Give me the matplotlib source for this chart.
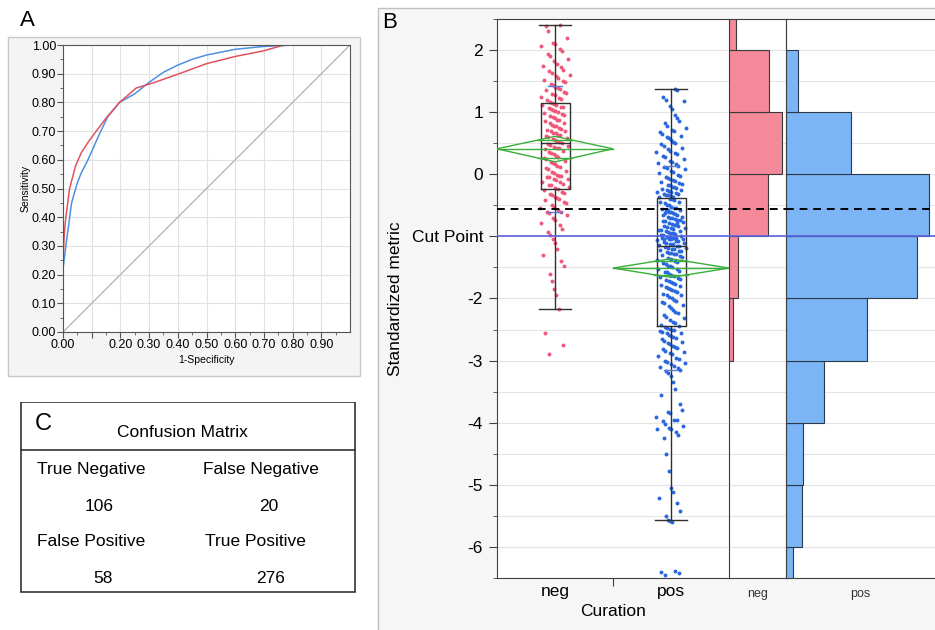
import matplotlib.pyplot as plt
import numpy as np
from matplotlib.patches import Rectangle, Polygon

plt.rcParams['font.family'] = ['Liberation Sans', 'DejaVu Sans']

# ---- panel A: ROC curves ----
red_fpr = [0, 0.0, 0.005, 0.01, 0.023, 0.044, 0.064, 0.09, 0.116, 0.15, 0.197, 0.255,
           0.32, 0.405, 0.5, 0.6, 0.7, 0.77, 1.0]
red_tpr = [0, 0.25, 0.35, 0.40, 0.50, 0.58, 0.625, 0.665, 0.70, 0.745, 0.80, 0.85,
           0.87, 0.90, 0.935, 0.96, 0.98, 1.0, 1.0]
blue_fpr = [0, 0.0, 0.01, 0.03, 0.05, 0.064, 0.087, 0.127, 0.156, 0.197, 0.25, 0.3,
            0.35, 0.4, 0.45, 0.5, 0.6, 0.7, 0.8, 1.0]
blue_tpr = [0, 0.22, 0.30, 0.45, 0.52, 0.555, 0.60, 0.69, 0.75, 0.80, 0.83, 0.87,
            0.905, 0.93, 0.95, 0.965, 0.985, 0.995, 1.0, 1.0]

# ---- panel C: confusion matrix ----
cm_labels = ["True Negative", "False Negative", "False Positive", "True Positive"]
cm_values = [106, 20, 58, 276]

# ---- panel B: standardized metric by curation ----
categories = ["neg", "pos"]
neg_vals = [-2.9, -2.75, -2.55, -2.17,
            -1.95, -1.85, -1.72, -1.6, -1.48, -1.4, -1.3, -1.2, -1.1, -1.05,
            -0.98, -0.93, -0.88, -0.82, -0.78, -0.74, -0.7, -0.66, -0.63, -0.61,
            -0.6, -0.57, -0.55, -0.52, -0.5, -0.47, -0.45, -0.42, -0.4, -0.38,
            -0.36, -0.34, -0.32, -0.3, -0.28, -0.26, -0.24,
            -0.22, -0.2, -0.18, -0.17, -0.15, -0.13, -0.12, -0.1, -0.08, -0.07,
            -0.05, -0.04, -0.03, -0.02, -0.01,
            0.02, 0.04, 0.06, 0.08, 0.1, 0.12, 0.14, 0.16, 0.18, 0.2, 0.22, 0.24,
            0.26, 0.28, 0.3, 0.32, 0.34, 0.36, 0.38, 0.4, 0.42, 0.43, 0.44, 0.46,
            0.47, 0.49,
            0.51, 0.52, 0.54, 0.55, 0.57, 0.58, 0.6, 0.61, 0.63, 0.64, 0.66, 0.67,
            0.69, 0.7, 0.72, 0.73, 0.75, 0.77, 0.78, 0.8, 0.82, 0.83, 0.85, 0.87,
            0.88, 0.9, 0.92, 0.94, 0.95, 0.97, 0.99,
            1.0, 1.02, 1.03, 1.05, 1.06, 1.08, 1.09, 1.11, 1.12, 1.13,
            1.15, 1.17, 1.19, 1.21, 1.23, 1.25, 1.27, 1.29, 1.31, 1.33, 1.35, 1.37,
            1.39, 1.41, 1.43, 1.45, 1.48, 1.5, 1.52, 1.55, 1.58, 1.6, 1.63, 1.66,
            1.68, 1.72, 1.75, 1.78, 1.82, 1.86, 1.9, 1.94, 1.98,
            2.02, 2.06, 2.1, 2.12, 2.2, 2.3, 2.38, 2.4]
pos_vals = [-6.45, -6.42, -6.4, -6.38,
            -5.6, -5.58, -5.57, -5.5, -5.42, -5.3, -5.22, -5.12, -5.05,
            -4.78, -4.5, -4.25, -4.2, -4.15, -4.1, -4.1, -4.08, -4.05, -4.02,
            -3.98, -3.96, -3.95, -3.9, -3.85, -3.82, -3.8, -3.7, -3.55, -3.45, -3.35,
            -3.25, -3.2, -3.17, -3.15, -3.12, -3.1, -3.08, -3.05, -3.04, -3.02, -3.01,
            -2.98, -2.95, -2.92, -2.9, -2.88, -2.86, -2.84, -2.82, -2.8, -2.78,
            -2.76, -2.74, -2.72, -2.7, -2.68, -2.66, -2.64, -2.62, -2.6, -2.58,
            -2.56, -2.55, -2.54, -2.52, -2.51, -2.5, -2.49, -2.48, -2.46,
            -2.44, -2.42, -2.4, -2.38, -2.35, -2.32, -2.3, -2.27, -2.24, -2.21,
            -2.18, -2.15, -2.12, -2.1, -2.08, -2.06, -2.04, -2.02,
            -1.99, -1.97, -1.95, -1.94, -1.92, -1.9, -1.88, -1.87, -1.85, -1.83,
            -1.82, -1.8, -1.78, -1.77, -1.75, -1.73, -1.72, -1.7, -1.68, -1.67,
            -1.65, -1.63, -1.62, -1.6, -1.58, -1.57, -1.55, -1.53, -1.52, -1.5,
            -1.48, -1.47, -1.45, -1.43, -1.42, -1.4, -1.38, -1.37, -1.35, -1.33,
            -1.32, -1.3, -1.29, -1.28, -1.27, -1.26, -1.25, -1.24, -1.23, -1.22,
            -1.21, -1.2, -1.19, -1.18, -1.17, -1.16,
            -1.15, -1.14, -1.13, -1.12, -1.11, -1.1, -1.09, -1.08, -1.07, -1.06,
            -1.05, -1.05, -1.04, -1.04, -1.03, -1.03, -1.02, -1.02, -1.01, -1.01,
            -0.99, -0.98, -0.97, -0.96, -0.95, -0.94, -0.93, -0.92, -0.91, -0.9,
            -0.89, -0.88, -0.87, -0.86, -0.85, -0.84, -0.83, -0.82, -0.81, -0.8,
            -0.78, -0.77, -0.76, -0.75, -0.74, -0.72, -0.71, -0.7, -0.69, -0.68,
            -0.66, -0.65, -0.64, -0.62, -0.61, -0.6, -0.59, -0.58, -0.56, -0.55,
            -0.54, -0.52, -0.5, -0.49, -0.47, -0.45, -0.44, -0.42, -0.4, -0.39,
            -0.57, -0.63, -0.73, -0.79,
            -0.37, -0.36, -0.35, -0.34, -0.33, -0.32, -0.31, -0.3, -0.29, -0.28,
            -0.27, -0.26, -0.25, -0.24, -0.22, -0.21, -0.2, -0.18, -0.17, -0.15,
            -0.14, -0.12, -0.11, -0.09, -0.08, -0.06, -0.05, -0.03, -0.01,
            0.02, 0.04, 0.06, 0.08, 0.1, 0.12, 0.14, 0.16, 0.18, 0.2,
            0.22, 0.25, 0.28, 0.3, 0.32, 0.34, 0.36, 0.38, 0.4, 0.42,
            0.45, 0.48, 0.5, 0.52, 0.55, 0.58, 0.6, 0.62, 0.65, 0.68,
            0.7, 0.72, 0.75, 0.78, 0.82, 0.86, 0.9, 0.95,
            1.05, 1.1, 1.18, 1.2, 1.25, 1.35, 1.38]

# box plot summaries
box_q1 = [-0.23, -2.45]
box_med = [0.50, -1.16]
box_q3 = [1.14, -0.38]
box_lo = [-2.17, -5.57]
box_hi = [2.40, 1.38]
q10 = [-0.61, -3.15]
q90 = [1.42, 0.14]
means = [0.41, -1.51]
ci_lo = [0.20, -1.66]
ci_hi = [0.61, -1.36]
cut_point = -1.0
dash_level = -0.56

W, H = 935, 630
fig = plt.figure(figsize=(W / 100, H / 100), dpi=100)


def rect(l, t, r, b):
    return [l / W, 1 - b / H, (r - l) / W, (b - t) / H]


def frame(l, t, r, b, fc, ec):
    fig.patches.append(Rectangle((l / W, 1 - b / H), (r - l) / W, (b - t) / H,
                                 transform=fig.transFigure, fc=fc, ec=ec, lw=1,
                                 zorder=-5))


# background frames
frame(8, 37, 360, 376, '#f4f4f4', '#c8c8c8')
frame(378, 8, 940, 640, '#f6f6f6', '#c0c0c0')

# ---------------- A ----------------
axA = fig.add_axes(rect(63, 45, 350, 332))
axA.plot([0, 1], [0, 1], color='#b0b0b0', lw=0.9)
axA.plot(blue_fpr, blue_tpr, color='#4d8fe0', lw=1.1)
axA.plot(red_fpr, red_tpr, color='#e2525e', lw=1.1)
axA.set_xlim(0, 1)
axA.set_ylim(0, 1)
xt = np.arange(0, 0.95, 0.1)
axA.set_xticks(xt)
axA.set_xticklabels(['' if abs(v - 0.1) < 1e-9 else f'{v:.2f}' for v in xt])
yt = np.arange(0, 1.05, 0.1)
axA.set_yticks(yt)
axA.set_yticklabels([f'{v:.2f}' for v in yt])
axA.set_xticks(np.arange(0.05, 1, 0.1), minor=True)
axA.set_yticks(np.arange(0.05, 1, 0.1), minor=True)
axA.grid(True, which='major', color='#e2e2e2', lw=0.8)
axA.set_axisbelow(True)
axA.tick_params(labelsize=9, length=4, width=0.8, color='#555555', pad=1)
axA.tick_params(which='minor', length=2, width=0.6, color='#555555')
for s in axA.spines.values():
    s.set_color('#555555')
axA.set_ylabel('Sensitivity', fontsize=7.5, labelpad=1)
axA.set_xlabel('1-Specificity', fontsize=7.5, labelpad=3)
fig.text(27 / W, 1 - 20 / H, 'A', fontsize=16, ha='center', va='center')

# ---------------- C ----------------
axC = fig.add_axes(rect(20, 402, 356, 593))
axC.set_xlim(20, 356)
axC.set_ylim(593, 402)
axC.axis('off')
axC.add_patch(Rectangle((21, 402), 334, 190, fc='white', ec='#333333', lw=1.2))
axC.plot([21, 355], [450, 450], color='#333333', lw=1.2)
axC.text(35, 424, 'C', fontsize=17, ha='left', va='center')
axC.text(182, 433, 'Confusion Matrix', fontsize=12.5, ha='center', va='center')
lab_pos = [(37, 470), (203, 470), (37, 542), (205, 542)]
val_pos = [(99, 507), (269, 507), (103, 579), (271, 579)]
for lab, (x, y) in zip(cm_labels, lab_pos):
    axC.text(x, y, lab, fontsize=12.5, ha='left', va='center')
for v, (x, y) in zip(cm_values, val_pos):
    axC.text(x, y, str(v), fontsize=12.5, ha='center', va='center')

# ---------------- B ----------------
ymin, ymax = -6.5, 2.5
axB = fig.add_axes(rect(497, 19, 729, 578))
axH1 = fig.add_axes(rect(729, 19, 786, 578))
axH2 = fig.add_axes(rect(786, 19, 935, 578))
neg_color, pos_color = '#f0587a', '#2a68e0'

for ax in (axB, axH1, axH2):
    ax.set_ylim(ymin, ymax)
    ax.set_yticks(np.arange(-6, 2.1, 1))
    ax.set_yticks(np.arange(-6.5, 2.6, 1), minor=True)
    ax.grid(True, axis='y', which='both', color='#e4e4e4', lw=0.8)
    ax.set_axisbelow(True)
    ax.axhline(cut_point, color='#5a62e0', lw=1.2, zorder=4)
    ax.axhline(dash_level, color='black', lw=1.4, ls=(0, (4, 3)), zorder=4)
    for s in ax.spines.values():
        s.set_color('#404040')

# jittered points (deterministic triangular spread around the category centre)
for i, (vals, col) in enumerate([(neg_vals, neg_color), (pos_vals, pos_color)]):
    idx = np.arange(len(vals))
    u1 = (idx * 0.6180339887) % 1
    u2 = (idx * 0.7548776662 + 0.37) % 1
    jit = (u1 - u2) * 0.14
    axB.scatter(i + 0.5 + jit, vals, s=8, color=col, lw=0, zorder=3)

stats = []
for i in range(2):
    stats.append(dict(med=box_med[i], q1=box_q1[i], q3=box_q3[i],
                      whislo=box_lo[i], whishi=box_hi[i], fliers=[]))
axB.bxp(stats, positions=[0.5, 1.5], widths=0.25, capwidths=0.27,
        showfliers=False, patch_artist=False,
        boxprops=dict(color='#303030', lw=1),
        whiskerprops=dict(color='#303030', lw=1),
        capprops=dict(color='#303030', lw=1),
        medianprops=dict(color='#303030', lw=1), zorder=3)
# 10% / 90% quantile ticks
for i in range(2):
    for q in (q10[i], q90[i]):
        axB.plot([i + 0.44, i + 0.56], [q, q], color='#5a7bd8', lw=1, zorder=3)

# means diamonds
for i in range(2):
    m, lo, hi = means[i], ci_lo[i], ci_hi[i]
    half = (hi - lo) / 2
    axB.add_patch(Polygon([[i, m], [i + 0.5, hi], [i + 1, m], [i + 0.5, lo]],
                          closed=True, fill=False, ec='#3aae3a', lw=1, zorder=4))
    axB.plot([i, i + 1], [m, m], color='#3aae3a', lw=1, zorder=4)
    k = np.sqrt(2) / 2
    hw = 0.5 * (1 - k)
    for yy in (m + k * half, m - k * half):
        axB.plot([i + 0.5 - hw, i + 0.5 + hw], [yy, yy], color='#3aae3a', lw=1, zorder=4)

axB.set_xlim(0, 2)
axB.set_xticks([1])
axB.set_xticklabels([''])
axB.set_xticks([0.5, 1.5], minor=True)
axB.set_xticklabels(categories, minor=True)
axB.tick_params(axis='x', which='major', length=6, color='#404040')
axB.tick_params(axis='x', which='minor', length=0, labelsize=12.5, pad=4)
ylabs = [str(int(v)) if v != cut_point else 'Cut Point' for v in np.arange(-6, 2.1, 1)]
axB.set_yticklabels(ylabs)
axB.tick_params(axis='y', which='major', length=6, labelsize=12.5, pad=4, color='#404040')
axB.tick_params(axis='y', which='minor', length=3, color='#404040')
axB.set_xlabel('Curation', fontsize=12.5, labelpad=4)
axB.set_ylabel('Standardized metric', fontsize=12.5, labelpad=6)
fig.text(390 / W, 1 - 23 / H, 'B', fontsize=16, ha='center', va='center')

# side histograms
bins = np.arange(-7, 4, 1)
cnt1, _, _ = axH1.hist(neg_vals, bins=bins, orientation='horizontal',
                       color='#f4899a', ec='#3a3a3a', lw=0.8)
cnt2, _, _ = axH2.hist(pos_vals, bins=bins, orientation='horizontal',
                       color='#7cb5f6', ec='#2a3a4a', lw=0.8)
axH1.set_xlim(0, cnt1.max() * 56 / 52)
axH2.set_xlim(0, cnt2.max() * 149 / 143)
for ax, lab in ((axH1, 'neg'), (axH2, 'pos')):
    ax.set_xticks([])
    ax.tick_params(axis='y', which='both', length=0, labelleft=False)
    ax.text(0.5, -0.017, lab, transform=ax.transAxes, ha='center', va='top',
            fontsize=9, color='#333333')
axH1.spines['left'].set_visible(False)
axH2.spines['right'].set_visible(False)
axH1.spines['right'].set_color('#707070')

fig.savefig('out.png', dpi=100)
